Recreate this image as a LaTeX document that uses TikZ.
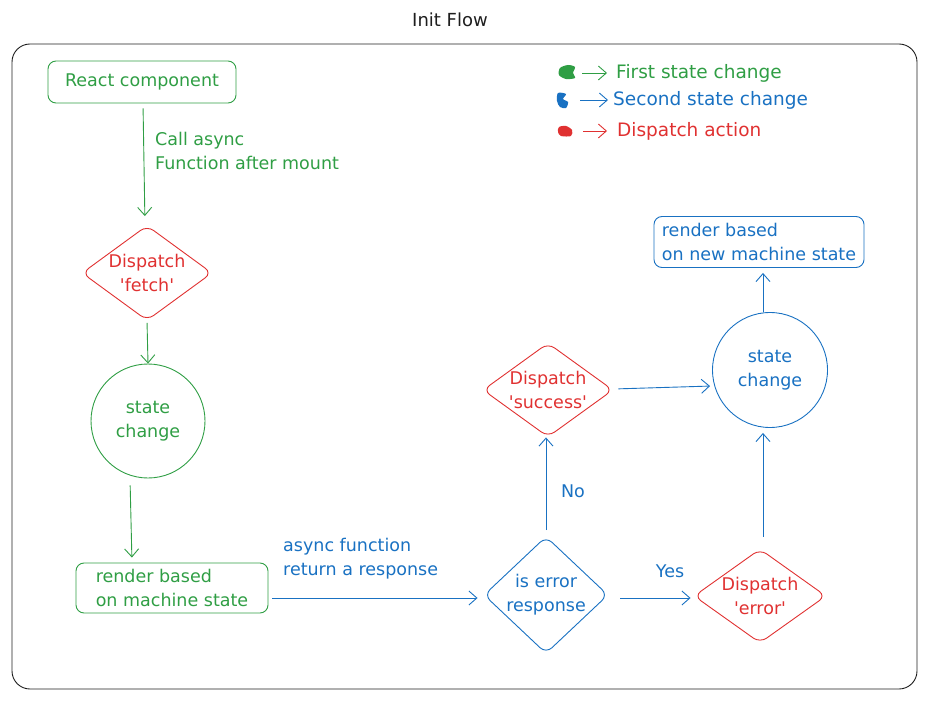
\documentclass[tikz,border=0pt]{standalone}
\usepackage{fontspec}
\setmainfont{DejaVu Sans}[Ligatures=TeXOff]
\usetikzlibrary{shapes.geometric,arrows.meta}
\definecolor{cgreen}{HTML}{2F9E44}
\definecolor{cblue}{HTML}{1971C2}
\definecolor{cred}{HTML}{E03131}
\definecolor{cframe}{HTML}{1E1E1E}
\tikzset{
  txt/.style={font=\fontsize{17.5}{24}\selectfont, inner sep=0pt},
  legtxt/.style={font=\fontsize{18.5}{24}\selectfont, inner sep=0pt},
  boxnode/.style={draw, rounded corners=8pt, line width=0.9pt, txt},
  dia/.style={draw, diamond, rounded corners=8pt, line width=0.9pt, inner sep=0pt},
  inlbl/.style={txt, align=center},
  circnode/.style={draw, circle, line width=0.9pt, align=center, txt},
  arr/.style={line width=0.9pt, -{Straight Barb[length=8pt,width=14pt,line width=0.9pt]}},
}
\begin{document}
\begin{tikzpicture}[x=1pt,y=-1pt]
\useasboundingbox (0,0) rectangle (934,703);
% title and frame
\node[text=cframe, font=\fontsize{18}{24}\selectfont, inner sep=0pt] (title) at (450,20) {Init Flow};
\draw[cframe, line width=0.9pt, rounded corners=18pt] (12,44) rectangle (917,689);

% legend
\fill[cgreen] plot[smooth cycle] coordinates {(560,68) (568,65) (575,67) (573,73) (575,78) (566,79) (559,75)};
\fill[cblue] plot[smooth cycle] coordinates {(558,93) (566,94) (563,99) (568,102) (566,108) (560,107) (557,101)};
\fill[cred] plot[smooth cycle] coordinates {(559,127) (566,126) (572,130) (571,136) (561,136) (558,132)};
\coordinate (l1a) at (582,73); \coordinate (l1b) at (607,73);
\coordinate (l2a) at (580,100); \coordinate (l2b) at (608,100);
\coordinate (l3a) at (583,131); \coordinate (l3b) at (607,131);
\draw[arr, cgreen] (l1a) -- (l1b);
\draw[arr, cblue] (l2a) -- (l2b);
\draw[arr, cred] (l3a) -- (l3b);
\node[legtxt, text=cgreen, anchor=west] (leg1) at (616,73) {First state change};
\node[legtxt, text=cblue, anchor=west] (leg2) at (613,100) {Second state change};
\node[legtxt, text=cred, anchor=west] (leg3) at (617,131) {Dispatch action};

% nodes
\node[boxnode, cgreen, minimum width=188pt, minimum height=42pt] (react) at (142,82) {React component};
\node[dia, cred, minimum width=130pt, minimum height=95pt,
  label={[inlbl, text=cred]center:Dispatch\\'fetch'}] (fetch) at (147,273) {};
\node[circnode, cgreen, minimum size=114pt] (sc1) at (148,421) {state\\change};
\node[boxnode, cgreen, minimum width=192pt, minimum height=50pt, align=left] (render1) at (172,588) {render based\\on machine state};
\node[dia, cblue, minimum width=124pt, minimum height=117pt,
  label={[inlbl, text=cblue]center:is error\\response}] (iserr) at (546,595) {};
\node[dia, cred, minimum width=132pt, minimum height=94pt,
  label={[inlbl, text=cred]center:Dispatch\\'error'}] (err) at (760,596) {};
\node[dia, cred, minimum width=130pt, minimum height=94pt,
  label={[inlbl, text=cred]center:Dispatch\\'success'}] (succ) at (548,390) {};
\node[circnode, cblue, minimum size=115pt] (sc2) at (770,370) {state\\change};
\node[boxnode, cblue, minimum width=210pt, minimum height=51pt, align=left] (render2) at (759,242) {render based\\on new machine state};

% connectors
\draw[arr, cgreen, shorten <=5pt, shorten >=9pt] ([xshift=1pt]react.south) -- ([xshift=-2pt]fetch.north);
\draw[arr, cgreen, shorten <=2pt] (fetch.south) -- (sc1.north);
\draw[arr, cgreen, shorten <=7pt, shorten >=5pt] ([xshift=-18pt]sc1.south) -- ([xshift=-40pt]render1.north);
\draw[arr, cblue, shorten <=4pt, shorten >=6pt] ([yshift=-10pt]render1.east) -- ([yshift=-3pt]iserr.west);
\draw[arr, cblue, shorten <=12pt, shorten >=3pt] ([yshift=-3pt]iserr.east) -- ([yshift=-2pt]err.west);
\draw[arr, cblue, shorten <=6pt] (iserr.north) -- ([xshift=-2pt]succ.south);
\draw[arr, cblue, shorten <=5pt, shorten >=2pt] ([yshift=1pt]succ.east) -- ([yshift=-16pt]sc2.west);
\draw[arr, cblue, shorten <=12pt, shorten >=5pt] ([xshift=3pt]err.north) -- ([xshift=-7pt]sc2.south);
\draw[arr, cblue, shorten >=5pt] ([xshift=-7pt]sc2.north) -- ([xshift=4pt]render2.south);

% labels
\node[txt, text=cgreen, anchor=west, align=left] (lbl1) at (155,151) {Call async\\Function after mount};
\node[txt, text=cblue, anchor=west, align=left] (lbl2) at (283,559) {async function\\return a response};
\node[txt, text=cblue] (lblyes) at (670,571) {Yes};
\node[txt, text=cblue] (lblno) at (573,491) {No};
\end{tikzpicture}
\end{document}
